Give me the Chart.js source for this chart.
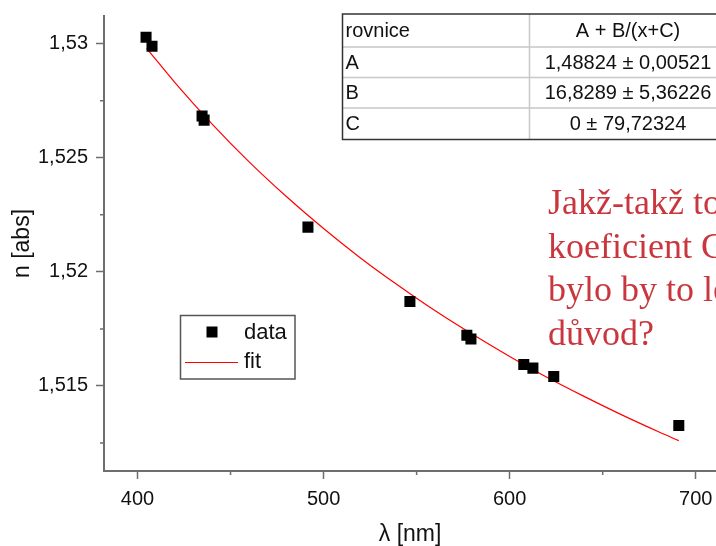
<!DOCTYPE html>
<html>
<head>
<meta charset="utf-8">
<title>n vs lambda</title>
<script src="https://cdn.jsdelivr.net/npm/chart.js@4.4.1/dist/chart.umd.min.js"></script>
<style>
    html, body { margin: 0; padding: 0; background: #ffffff; overflow: hidden; }
    #wrap { width: 716px; height: 546px; position: relative; overflow: hidden; }
</style>
</head>
<body>
<div id="wrap"><canvas id="dispersionChart" width="724" height="546"></canvas></div>
<script>
// measured points (wavelength in nm, refractive index)
const wavelengths = [404.6, 407.8, 434.7, 435.8, 491.6, 546.4, 577.0, 579.2, 607.6, 612.5, 623.7, 690.9];
const nValues = [1.53028, 1.52989, 1.52683, 1.52665, 1.52196, 1.51870, 1.51722, 1.51706, 1.51594, 1.51578, 1.51541, 1.51326];

// fit curve
const fitX = [404.9, 420, 440, 460, 480, 500, 520, 540, 560, 580, 600, 620, 640, 660, 680, 690.9];
const fitN = [1.52980, 1.52831, 1.52649, 1.52482, 1.52330, 1.52190, 1.52060, 1.51941, 1.51829, 1.51726, 1.51629, 1.51538, 1.51454, 1.51374, 1.51299, 1.51260];

// axis ticks
const xTickValues = [400, 500, 600, 700];
const xTickLabels = ['400', '500', '600', '700'];
const xMinorTicks = [450, 550, 650];
const yTickValues = [1.515, 1.52, 1.525, 1.53];
const yTickLabels = ['1,515', '1,52', '1,525', '1,53'];
const yMinorTicks = [1.5125, 1.5175, 1.5225, 1.5275];

// fit parameter table
const tableHeader = ['rovnice', 'A + B/(x+C)'];
const tableParams = ['A', 'B', 'C'];
const tableValues = ['1,48824 ± 0,00521', '16,8289 ± 5,36226', '0 ± 79,72324'];

// note written over the chart
const noteLines = ['Jakž-takž to', 'koeficient C', 'bylo by to lepší', 'důvod?'];

const legendLabels = ['data', 'fit'];

const axisColor = '#6e6e6e';
const sansFont = '"Liberation Sans", Arial, sans-serif';

// minor ticks are drawn by hand, the library has only one tick length
const minorTicksPlugin = {
    id: 'minorTicks',
    afterDraw(chart) {
        const ctx = chart.ctx;
        const xs = chart.scales.x;
        const ys = chart.scales.y;
        ctx.save();
        ctx.strokeStyle = axisColor;
        ctx.lineWidth = 1.5;
        ctx.beginPath();
        xMinorTicks.forEach(v => {
            const px = xs.getPixelForValue(v);
            ctx.moveTo(px, ys.bottom);
            ctx.lineTo(px, ys.bottom + 4);
        });
        yMinorTicks.forEach(v => {
            const py = ys.getPixelForValue(v);
            ctx.moveTo(xs.left, py);
            ctx.lineTo(xs.left - 4, py);
        });
        ctx.stroke();
        ctx.restore();
    }
};

// legend box, parameter table and the red note
const overlayPlugin = {
    id: 'overlay',
    afterDraw(chart) {
        const ctx = chart.ctx;
        ctx.save();

        // legend
        const dataSet = chart.data.datasets[0];
        const fitSet = chart.data.datasets[1];
        ctx.strokeStyle = '#555555';
        ctx.lineWidth = 1.5;
        ctx.strokeRect(180.5, 315.5, 114.5, 63.5);
        ctx.fillStyle = dataSet.backgroundColor;
        ctx.fillRect(206.5, 326.5, 11, 11);
        ctx.strokeStyle = fitSet.borderColor;
        ctx.lineWidth = 1;
        ctx.beginPath();
        ctx.moveTo(185, 362.5);
        ctx.lineTo(238, 362.5);
        ctx.stroke();
        ctx.fillStyle = '#111111';
        ctx.font = '22px ' + sansFont;
        ctx.textBaseline = 'middle';
        ctx.textAlign = 'left';
        ctx.fillText(legendLabels[0], 244, 333);
        ctx.fillText(legendLabels[1], 244, 362);

        // table
        const tLeft = 342.5, tTop = 14, tRight = 727, colSplit = 529.5;
        const rowLines = [14, 47, 77.5, 108, 139.5];
        ctx.fillStyle = '#ffffff';
        ctx.fillRect(tLeft, tTop, tRight - tLeft, rowLines[4] - tTop);
        ctx.strokeStyle = '#c8c8c8';
        ctx.lineWidth = 1.5;
        ctx.beginPath();
        for (let i = 1; i < 4; i++) {
            ctx.moveTo(tLeft, rowLines[i]);
            ctx.lineTo(tRight, rowLines[i]);
        }
        ctx.moveTo(colSplit, tTop);
        ctx.lineTo(colSplit, rowLines[4]);
        ctx.stroke();
        ctx.strokeStyle = '#333333';
        ctx.lineWidth = 1.5;
        ctx.strokeRect(tLeft, tTop, tRight - tLeft, rowLines[4] - tTop);

        ctx.fillStyle = '#111111';
        ctx.font = '20px ' + sansFont;
        ctx.textBaseline = 'middle';
        const rowNames = [tableHeader[0]].concat(tableParams);
        const rowTexts = [tableHeader[1]].concat(tableValues);
        for (let i = 0; i < 4; i++) {
            const cy = (rowLines[i] + rowLines[i + 1]) / 2 + 1;
            ctx.textAlign = 'left';
            ctx.fillText(rowNames[i], tLeft + 3, cy);
            ctx.textAlign = 'center';
            ctx.fillText(rowTexts[i], 628, cy);
        }

        // note
        ctx.fillStyle = '#c9363e';
        ctx.font = '36px "Liberation Serif", "Times New Roman", serif';
        ctx.textAlign = 'left';
        ctx.textBaseline = 'alphabetic';
        const baselines = [214, 258, 301, 345];
        noteLines.forEach((line, i) => ctx.fillText(line, 548, baselines[i]));

        ctx.restore();
    }
};

function initDispersionChart() {
    const canvas = document.getElementById('dispersionChart');
    if (!canvas) {
        console.error('Chart canvas not found');
        return;
    }

    new Chart(canvas.getContext('2d'), {
        type: 'scatter',
        data: {
            datasets: [
                {
                    label: legendLabels[0],
                    data: wavelengths.map((x, i) => ({ x: x, y: nValues[i] })),
                    backgroundColor: '#000000',
                    borderWidth: 0,
                    pointStyle: 'rect',
                    pointRadius: 7.8,
                    order: 1
                },
                {
                    label: legendLabels[1],
                    type: 'line',
                    data: fitX.map((x, i) => ({ x: x, y: fitN[i] })),
                    borderColor: '#ff0000',
                    borderWidth: 1.2,
                    pointRadius: 0,
                    cubicInterpolationMode: 'monotone',
                    fill: false,
                    order: 2
                }
            ]
        },
        options: {
            responsive: false,
            animation: false,
            devicePixelRatio: 1,
            layout: {
                padding: { top: 16, right: 0, bottom: 0, left: 0 }
            },
            plugins: {
                legend: { display: false },
                tooltip: { enabled: false }
            },
            scales: {
                x: {
                    type: 'linear',
                    min: 382,
                    max: 711,
                    afterBuildTicks: scale => {
                        scale.ticks = xTickValues.map(v => ({ value: v }));
                    },
                    afterFit: scale => {
                        scale.height = 75;
                        scale.paddingLeft = 0;
                        scale.paddingRight = 0;
                    },
                    ticks: {
                        autoSkip: false,
                        maxRotation: 0,
                        padding: 8,
                        color: '#111111',
                        font: { family: sansFont, size: 20 },
                        callback: function(value) {
                            const idx = xTickValues.indexOf(value);
                            return idx >= 0 ? xTickLabels[idx] : '';
                        }
                    },
                    grid: {
                        drawOnChartArea: false,
                        drawTicks: true,
                        tickLength: 8,
                        tickColor: axisColor,
                        tickWidth: 1.5
                    },
                    border: { display: true, color: axisColor, width: 2 },
                    title: {
                        display: true,
                        text: 'λ [nm]',
                        color: '#111111',
                        font: { family: sansFont, size: 23, lineHeight: 1 },
                        padding: { top: 0, bottom: 0 }
                    }
                },
                y: {
                    type: 'linear',
                    min: 1.51127,
                    max: 1.531215,
                    afterBuildTicks: scale => {
                        scale.ticks = yTickValues.map(v => ({ value: v }));
                    },
                    afterFit: scale => {
                        scale.width = 104;
                        scale.paddingTop = 0;
                        scale.paddingBottom = 0;
                    },
                    ticks: {
                        autoSkip: false,
                        padding: 8,
                        color: '#111111',
                        font: { family: sansFont, size: 20 },
                        callback: function(value) {
                            const idx = yTickValues.findIndex(v => Math.abs(v - value) < 1e-9);
                            return idx >= 0 ? yTickLabels[idx] : '';
                        }
                    },
                    grid: {
                        drawOnChartArea: false,
                        drawTicks: true,
                        tickLength: 8,
                        tickColor: axisColor,
                        tickWidth: 1.5
                    },
                    border: { display: true, color: axisColor, width: 2 },
                    title: {
                        display: true,
                        text: 'n [abs]',
                        color: '#111111',
                        font: { family: sansFont, size: 23, lineHeight: 1 },
                        padding: { top: 11, bottom: 0 }
                    }
                }
            }
        },
        plugins: [minorTicksPlugin, overlayPlugin]
    });
}

if (document.readyState === 'loading') {
    document.addEventListener('DOMContentLoaded', initDispersionChart);
} else {
    initDispersionChart();
}
</script>
</body>
</html>
